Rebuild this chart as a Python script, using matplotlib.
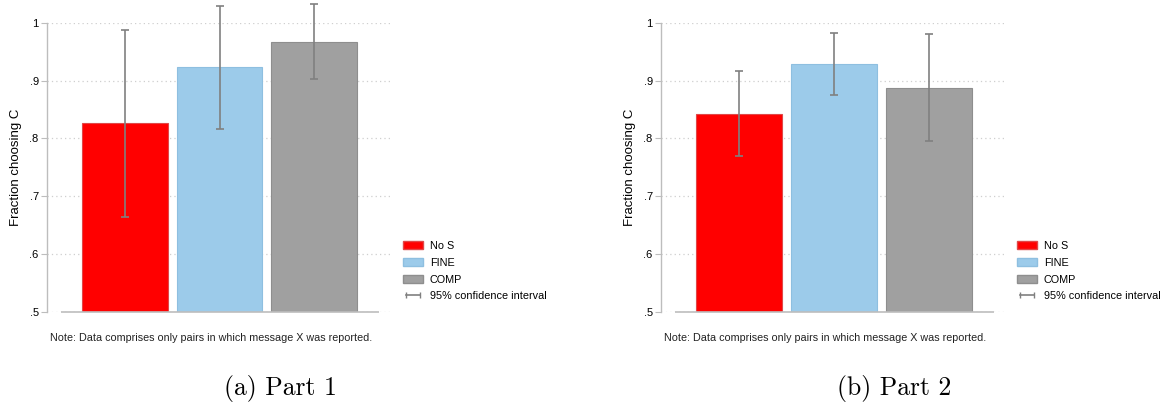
import matplotlib.pyplot as plt
from matplotlib.patches import Patch
from matplotlib.lines import Line2D

# Data
groups = ['No S', 'FINE', 'COMP']
part1_mean = [0.826, 0.923, 0.967]
part1_lo = [0.665, 0.817, 0.903]
part1_hi = [0.987, 1.029, 1.032]
part2_mean = [0.843, 0.929, 0.887]
part2_lo = [0.770, 0.875, 0.795]
part2_hi = [0.917, 0.982, 0.980]
yticks = [0.5, 0.6, 0.7, 0.8, 0.9, 1.0]
yticklabels = ['.5', '.6', '.7', '.8', '.9', '1']
captions = ['(a) Part 1', '(b) Part 2']

colors = ['#ff0000', '#9ccbea', '#a0a0a0']
edges = ['#e04848', '#8ebfe0', '#8e8e8e']
ci_color = '#808080'
axis_gray = '#bdbdbd'
note = 'Note: Data comprises only pairs in which message X was reported.'

plt.rcParams['font.family'] = ['Liberation Sans', 'DejaVu Sans']

W, H = 1167, 407
fig = plt.figure(figsize=(W / 100, H / 100), dpi=100)


def draw_panel(x0, x1, means, lo, hi, legend_x, caption, cap_x):
    ax = fig.add_axes([x0 / W, 1 - 312 / H, (x1 - x0) / W, (312 - 22.7) / H])
    pos = list(range(len(groups)))
    ax.bar(pos, [m - 0.5 for m in means], bottom=0.5, width=0.905,
           color=colors, edgecolor=edges, linewidth=0.8, zorder=2)
    yerr = [[m - l for m, l in zip(means, lo)], [h - m for m, h in zip(means, hi)]]
    ax.errorbar(pos, means, yerr=yerr, fmt='none', ecolor=ci_color,
                elinewidth=1.2, capsize=3, capthick=1.2, zorder=3, clip_on=False)
    ax.set_ylim(0.5, 1.0)
    ax.set_xlim(-0.825, 2.80)
    ax.set_yticks(yticks)
    ax.set_yticklabels(yticklabels, fontsize=8)
    ax.tick_params(axis='y', direction='out', length=4, color=axis_gray, width=0.8, pad=2)
    ax.set_xticks([])
    ax.grid(axis='y', linestyle=(0, (1, 2.5)), color='#cfcfcf', linewidth=0.9, zorder=0)
    for s in ['top', 'right', 'bottom']:
        ax.spines[s].set_visible(False)
    ax.spines['left'].set_color(axis_gray)
    ax.spines['left'].set_linewidth(1.0)
    ax.spines['left'].set_bounds(0.5, 1.0)
    ax.hlines(0.5, -0.68, 2.68, color=axis_gray, linewidth=1.2, zorder=4, clip_on=False)
    ax.set_ylabel('Fraction choosing C', fontsize=9.5, labelpad=5)

    handles = [Patch(facecolor=c, edgecolor=e, label=g) for c, e, g in zip(colors, edges, groups)]
    handles.append(Line2D([], [], color=ci_color, marker='|', markersize=5,
                          linewidth=1.2, label='95% confidence interval'))
    fig.legend(handles=handles, loc='upper left', bbox_to_anchor=(legend_x / W, 1 - 241 / H),
               frameon=False, fontsize=7.85, handlelength=1.85, handleheight=0.8,
               handletextpad=0.6, labelspacing=0.62, numpoints=2, borderpad=0, borderaxespad=0)

    fig.text((x0 + 3) / W, 1 - 338 / H, note, fontsize=7.75, va='center', ha='left', color='#222222')
    fig.text(cap_x / W, 1 - 389 / H, caption, fontsize=18.5, ha='center', va='center',
             family='cmr10')


draw_panel(47, 390, part1_mean, part1_lo, part1_hi, 403, captions[0], 280)
draw_panel(661, 1005, part2_mean, part2_lo, part2_hi, 1017, captions[1], 894)

fig.savefig('out.png', dpi=100)
